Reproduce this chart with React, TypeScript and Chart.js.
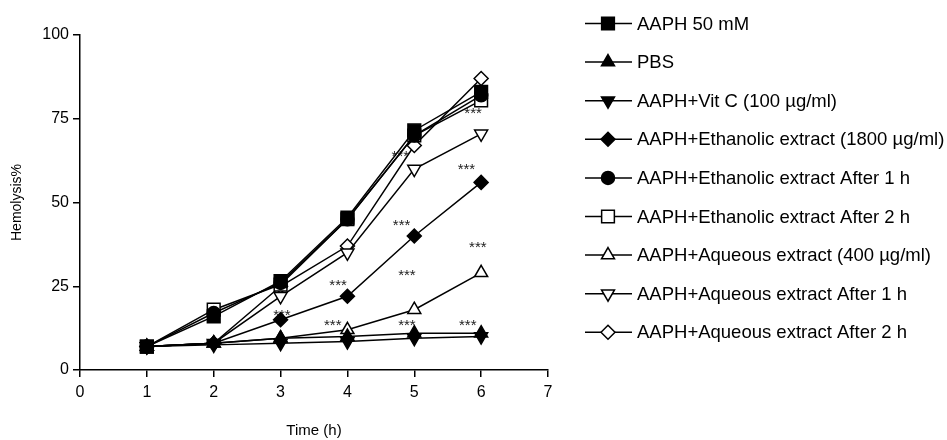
import React, { useEffect, useRef } from 'react';
import { Chart, registerables } from 'chart.js';
import { drawPoint } from 'chart.js/helpers';

Chart.register(...registerables);

// ---- data ----
const timeHours = [1, 2, 3, 4, 5, 6];

const seriesNames = [
  'AAPH 50 mM',
  'PBS',
  'AAPH+Vit C (100 µg/ml)',
  'AAPH+Ethanolic extract (1800 µg/ml)',
  'AAPH+Ethanolic extract After 1 h',
  'AAPH+Ethanolic extract After 2 h',
  'AAPH+Aqueous extract (400 µg/ml)',
  'AAPH+Aqueous extract After 1 h',
  'AAPH+Aqueous extract After 2 h',
];

const aaph50 = [7, 16, 26.5, 45.5, 71.5, 83];
const pbs = [7, 8, 9.5, 10, 11, 11];
const vitC = [7, 7.5, 8, 8.5, 9.5, 10];
const ethanolic1800 = [7, 8, 15, 22, 40, 56];
const ethanolicAfter1 = [7, 17, 26, 45, 70, 82];
const ethanolicAfter2 = [7, 18, 25.5, 45, 70, 80.5];
const aqueous400 = [7, 8, 9.5, 12, 18, 29];
const aqueousAfter1 = [7, 8, 22, 35, 60, 70.5];
const aqueousAfter2 = [7, 8, 25, 37, 67, 87];

const seriesValues = [
  aaph50, pbs, vitC, ethanolic1800, ethanolicAfter1,
  ethanolicAfter2, aqueous400, aqueousAfter1, aqueousAfter2,
];

// significance marks (data coordinates)
const sigX = [3.02, 3.86, 3.78, 4.89, 4.89, 4.81, 4.79, 5.88, 5.78, 5.95, 5.8];
const sigY = [17.4, 26.4, 14.4, 29.3, 14.4, 44.1, 64.7, 77.6, 60.9, 37.6, 14.4];
const sigText = '***';

const xMin = 0;
const xMax = 7;
const yMin = 0;
const yMax = 100;
const yStep = 25;

// ---- styles ----
const markerStyles = [
  { style: 'rect', rot: 0, filled: true, r: 9 },
  { style: 'triangle', rot: 0, filled: true, r: 7.5 },
  { style: 'triangle', rot: 180, filled: true, r: 7.5 },
  { style: 'rectRot', rot: 0, filled: true, r: 7 },
  { style: 'circle', rot: 0, filled: true, r: 6.5 },
  { style: 'rect', rot: 0, filled: false, r: 9 },
  { style: 'triangle', rot: 0, filled: false, r: 7.5 },
  { style: 'triangle', rot: 180, filled: false, r: 7.5 },
  { style: 'rectRot', rot: 0, filled: false, r: 7 },
];

const FONT = '"Liberation Sans", Arial, Helvetica, sans-serif';

const sigPlugin = {
  id: 'sigMarks',
  beforeDatasetsDraw(chart: any) {
    const { ctx, scales } = chart;
    ctx.save();
    ctx.fillStyle = '#222';
    ctx.font = `15px ${FONT}`;
    ctx.textAlign = 'center';
    ctx.textBaseline = 'middle';
    for (let i = 0; i < sigX.length; i++) {
      const px = scales.x.getPixelForValue(sigX[i]);
      const py = scales.y.getPixelForValue(sigY[i]);
      ctx.fillText(sigText, px, py + 4);
    }
    ctx.restore();
  },
};

const legendPlugin = {
  id: 'sideLegend',
  afterDraw(chart: any) {
    const { ctx } = chart;
    const x0 = chart.chartArea.right + 37;
    chart.data.datasets.forEach((ds: any, i: number) => {
      const y = 23.5 + i * 38.6;
      ctx.save();
      ctx.strokeStyle = '#000';
      ctx.lineWidth = 1.5;
      ctx.beginPath();
      ctx.moveTo(x0, y);
      ctx.lineTo(x0 + 47, y);
      ctx.stroke();
      ctx.fillStyle = ds.pointBackgroundColor;
      ctx.strokeStyle = '#000';
      ctx.lineWidth = ds.pointBorderWidth;
      drawPoint(ctx, {
        pointStyle: ds.pointStyle,
        rotation: ds.pointRotation,
        radius: ds.pointRadius,
        borderWidth: ds.pointBorderWidth,
      } as any, x0 + 23, y);
      ctx.fillStyle = '#000';
      ctx.font = `18.5px ${FONT}`;
      ctx.textAlign = 'left';
      ctx.textBaseline = 'middle';
      ctx.fillText(ds.label, x0 + 52, y + 1);
      ctx.restore();
    });
  },
};

export default function App() {
  const canvasRef = useRef<HTMLCanvasElement>(null);

  useEffect(() => {
    if (!canvasRef.current) return;
    const datasets = seriesNames.map((name, i) => {
      const m = markerStyles[i];
      return {
        label: name,
        data: timeHours.map((t, j) => ({ x: t, y: seriesValues[i][j] })),
        borderColor: '#000',
        borderWidth: 1.5,
        backgroundColor: m.filled ? '#000' : '#fff',
        pointBackgroundColor: m.filled ? '#000' : '#fff',
        pointBorderColor: '#000',
        pointBorderWidth: 1.5,
        pointStyle: m.style,
        pointRotation: m.rot,
        pointRadius: m.r,
        tension: 0,
        fill: false,
      };
    });

    const chart = new Chart(canvasRef.current, {
      type: 'line',
      data: { datasets } as any,
      options: {
        responsive: false,
        animation: false,
        layout: { padding: { top: 35, right: 399, bottom: 0, left: 0 } },
        plugins: {
          legend: { display: false },
          tooltip: { enabled: false },
        },
        scales: {
          x: {
            type: 'linear',
            min: xMin,
            max: xMax,
            ticks: { stepSize: 1, color: '#000', font: { size: 16, family: FONT }, padding: 6, maxRotation: 0 },
            grid: { drawOnChartArea: false, drawTicks: true, tickLength: 7, color: '#000', lineWidth: 1.5 },
            border: { display: true, color: '#000', width: 1.5 },
            title: { display: true, text: 'Time (h)', color: '#000', font: { size: 15, family: FONT }, padding: { top: 0, bottom: 0 } },
            afterFit: (scale: any) => { scale.height = 70; },
          },
          y: {
            type: 'linear',
            min: yMin,
            max: yMax,
            ticks: { stepSize: yStep, color: '#000', font: { size: 16, family: FONT }, padding: 4 },
            grid: { drawOnChartArea: false, drawTicks: true, tickLength: 7, color: '#000', lineWidth: 1.5 },
            border: { display: true, color: '#000', width: 1.5 },
            title: { display: true, text: 'Hemolysis%', color: '#000', font: { size: 14, family: FONT }, padding: { top: 9, bottom: 0 } },
            afterFit: (scale: any) => { scale.width = 80; },
          },
        },
      } as any,
      plugins: [sigPlugin, legendPlugin],
    });
    return () => chart.destroy();
  }, []);

  return (
    <div style={{ position: 'absolute', left: 0, top: 0, width: 947, height: 440, background: '#fff' }}>
      <canvas ref={canvasRef} width={947} height={440} />
    </div>
  );
}
